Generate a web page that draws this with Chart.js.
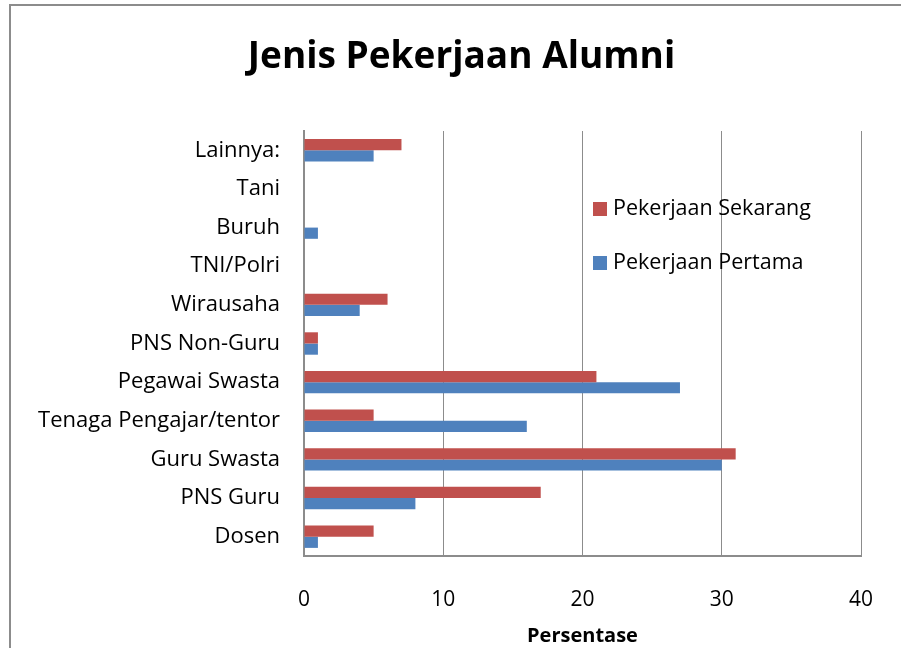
<!DOCTYPE html>
<html>
<head>
<meta charset="utf-8">
<script src="https://cdn.jsdelivr.net/npm/chart.js@4"></script>
<style>
  body { margin: 0; background: #fff; }
  #wrap { width: 901px; height: 648px; }
</style>
</head>
<body>
<div id="wrap"><canvas id="ratio"></canvas></div>
<script>
// categories listed top to bottom as in the picture
var categories = ['Lainnya:', 'Tani', 'Buruh', 'TNI/Polri', 'Wirausaha', 'PNS Non-Guru',
  'Pegawai Swasta', 'Tenaga Pengajar/tentor', 'Guru Swasta', 'PNS Guru', 'Dosen'];
var sekarang = [7, 0, 0, 0, 6, 1, 21, 5, 31, 17, 5];
var pertama = [5, 0, 1, 0, 4, 1, 27, 16, 30, 8, 1];
var xTicks = [0, 10, 20, 30, 40];
var chartTitle = 'Jenis Pekerjaan Alumni';

var FONT = '"Open Sans", "Noto Sans", sans-serif';
Chart.defaults.color = '#000';
Chart.defaults.font.family = FONT;

// outer frame, title (centred on the frame) and legend inside the plot
var extras = {
  id: 'extras',
  beforeDraw: function (chart) {
    var c = chart.ctx;
    c.save();
    c.strokeStyle = '#8c8c8c';
    c.lineWidth = 2;
    c.strokeRect(10, 5, 920, 700);
    c.restore();
  },
  afterDraw: function (chart) {
    var c = chart.ctx, a = chart.chartArea;
    c.save();
    c.fillStyle = '#000';
    c.font = 'bold 37px ' + FONT;
    c.textAlign = 'center';
    c.textBaseline = 'middle';
    c.fillText(chartTitle, 461.5, 57);

    c.textAlign = 'left';
    c.font = '21.5px ' + FONT;
    chart.data.datasets.forEach(function (ds, i) {
      var x = a.left + 289, y = a.top + 78 + i * 54;
      c.fillStyle = ds.backgroundColor;
      c.fillRect(x, y - 7, 14, 14);
      c.fillStyle = '#000';
      c.fillText(ds.label, x + 20, y);
    });
    c.restore();
  }
};

var ctx = document.getElementById('ratio').getContext('2d');
var chart = new Chart(ctx, {
  type: 'bar',
  plugins: [extras],
  data: {
    labels: categories,
    datasets: [
      { label: 'Pekerjaan Sekarang', data: sekarang, backgroundColor: '#C0504D' },
      { label: 'Pekerjaan Pertama', data: pertama, backgroundColor: '#4F81BD' }
    ]
  },
  options: {
    indexAxis: 'y',
    responsive: true,
    maintainAspectRatio: false,
    animation: false,
    categoryPercentage: 0.58,
    barPercentage: 1,
    layout: { padding: { left: 20, right: 40, top: 131, bottom: 0 } },
    plugins: {
      legend: { display: false },
      tooltip: { enabled: false },
      title: { display: false }
    },
    scales: {
      x: {
        min: 0, max: 40,
        afterBuildTicks: function (s) { s.ticks = xTicks.map(function (v) { return { value: v }; }); },
        afterFit: function (s) { s.height = 92; s.paddingLeft = 0; s.paddingRight = 0; },
        grid: { color: '#8c8c8c', drawTicks: false },
        border: { color: '#8c8c8c', width: 2 },
        ticks: { font: { size: 21 }, padding: 31 },
        title: { display: true, text: 'Persentase', font: { size: 20, weight: 'bold' }, padding: 0 }
      },
      y: {
        afterFit: function (s) { s.width = 284; s.paddingTop = 0; s.paddingBottom = 0; },
        grid: { display: false, drawTicks: false },
        border: { color: '#8c8c8c', width: 2 },
        ticks: { font: { size: 22 }, padding: 24 }
      }
    }
  }
});
</script>
</body>
</html>
